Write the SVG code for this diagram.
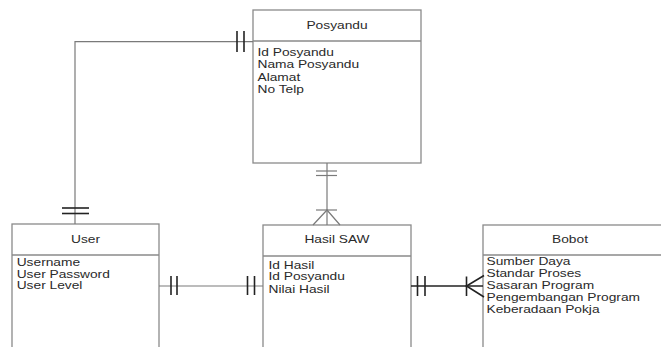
<svg xmlns="http://www.w3.org/2000/svg" width="661" height="347" viewBox="0 0 661 347">
<style>
.box{fill:#fff;stroke:#8a8a8a;stroke-width:1.3}
.sep{stroke:#8a8a8a;stroke-width:1.3}
.t{font-family:"Liberation Sans",Arial,sans-serif;font-size:11px;fill:#2a2a2a}
.h{text-anchor:middle}
.ln{fill:none;stroke:#7a7a7a;stroke-width:1.2}
.dk{fill:none;stroke:#222;stroke-width:1.6}
</style>
<rect width="661" height="347" fill="#fff"/>
<g id="posyandu">
<rect class="box" x="253" y="10" width="168" height="153"/>
<line class="sep" x1="253" y1="41" x2="421" y2="41"/>
<text class="t h" transform="matrix(1.25,0,0,1,337,29)">Posyandu</text>
<text class="t" transform="matrix(1.25,0,0,1,257.5,56)">Id Posyandu</text>
<text class="t" transform="matrix(1.25,0,0,1,257.5,68.3)">Nama Posyandu</text>
<text class="t" transform="matrix(1.25,0,0,1,257.5,80.6)">Alamat</text>
<text class="t" transform="matrix(1.25,0,0,1,257.5,93)">No Telp</text>
</g>
<g id="user">
<rect class="box" x="12" y="224" width="147" height="130"/>
<line class="sep" x1="12" y1="255" x2="159" y2="255"/>
<text class="t h" transform="matrix(1.25,0,0,1,85.5,243)">User</text>
<text class="t" transform="matrix(1.25,0,0,1,16.7,266)">Username</text>
<text class="t" transform="matrix(1.25,0,0,1,16.7,277.5)">User Password</text>
<text class="t" transform="matrix(1.25,0,0,1,16.7,289)">User Level</text>
</g>
<g id="hasil-saw">
<rect class="box" x="263" y="225" width="148" height="130"/>
<line class="sep" x1="263" y1="256" x2="411" y2="256"/>
<text class="t h" transform="matrix(1.25,0,0,1,337,243)">Hasil SAW</text>
<text class="t" transform="matrix(1.25,0,0,1,268.5,268.5)">Id Hasil</text>
<text class="t" transform="matrix(1.25,0,0,1,268.5,280.3)">Id Posyandu</text>
<text class="t" transform="matrix(1.25,0,0,1,268.5,292.5)">Nilai Hasil</text>
</g>
<g id="bobot">
<rect class="box" x="483" y="225" width="200" height="130"/>
<line class="sep" x1="483" y1="255" x2="683" y2="255"/>
<text class="t h" transform="matrix(1.25,0,0,1,570,243)">Bobot</text>
<text class="t" transform="matrix(1.25,0,0,1,486.5,265)">Sumber Daya</text>
<text class="t" transform="matrix(1.25,0,0,1,486.5,277)">Standar Proses</text>
<text class="t" transform="matrix(1.25,0,0,1,486.5,288.5)">Sasaran Program</text>
<text class="t" transform="matrix(1.25,0,0,1,486.5,300.5)">Pengembangan Program</text>
<text class="t" transform="matrix(1.25,0,0,1,486.5,312.5)">Keberadaan Pokja</text>
</g>
<g id="connectors">
<polyline class="ln" points="253,41.7 75,41.7 75,224"/>
<line class="dk" x1="237" y1="31" x2="237" y2="52"/>
<line class="dk" x1="244" y1="31" x2="244" y2="52"/>
<line class="dk" x1="62" y1="208" x2="89" y2="208"/>
<line class="dk" x1="62" y1="213.5" x2="89" y2="213.5"/>
<line class="ln" x1="159" y1="286" x2="263" y2="286"/>
<line class="dk" x1="171" y1="276" x2="171" y2="295"/>
<line class="dk" x1="177" y1="276" x2="177" y2="295"/>
<line class="dk" x1="247.5" y1="276" x2="247.5" y2="295"/>
<line class="dk" x1="254.5" y1="276" x2="254.5" y2="295"/>
<line class="ln" x1="327" y1="163" x2="327" y2="225"/>
<line class="ln" x1="316" y1="171" x2="337" y2="171"/>
<line class="ln" x1="316" y1="175.5" x2="337" y2="175.5"/>
<line class="ln" x1="316" y1="210" x2="337" y2="210"/>
<polyline class="ln" points="313,225 327,210 340,225"/>
<line class="dk" x1="411" y1="286" x2="483" y2="286"/>
<line class="dk" x1="417.5" y1="276" x2="417.5" y2="296"/>
<line class="dk" x1="425" y1="276" x2="425" y2="296"/>
<line class="dk" x1="466.5" y1="276.5" x2="466.5" y2="296"/>
<polyline class="dk" points="484,275.5 466.5,286 484,297"/>
</g>
</svg>
